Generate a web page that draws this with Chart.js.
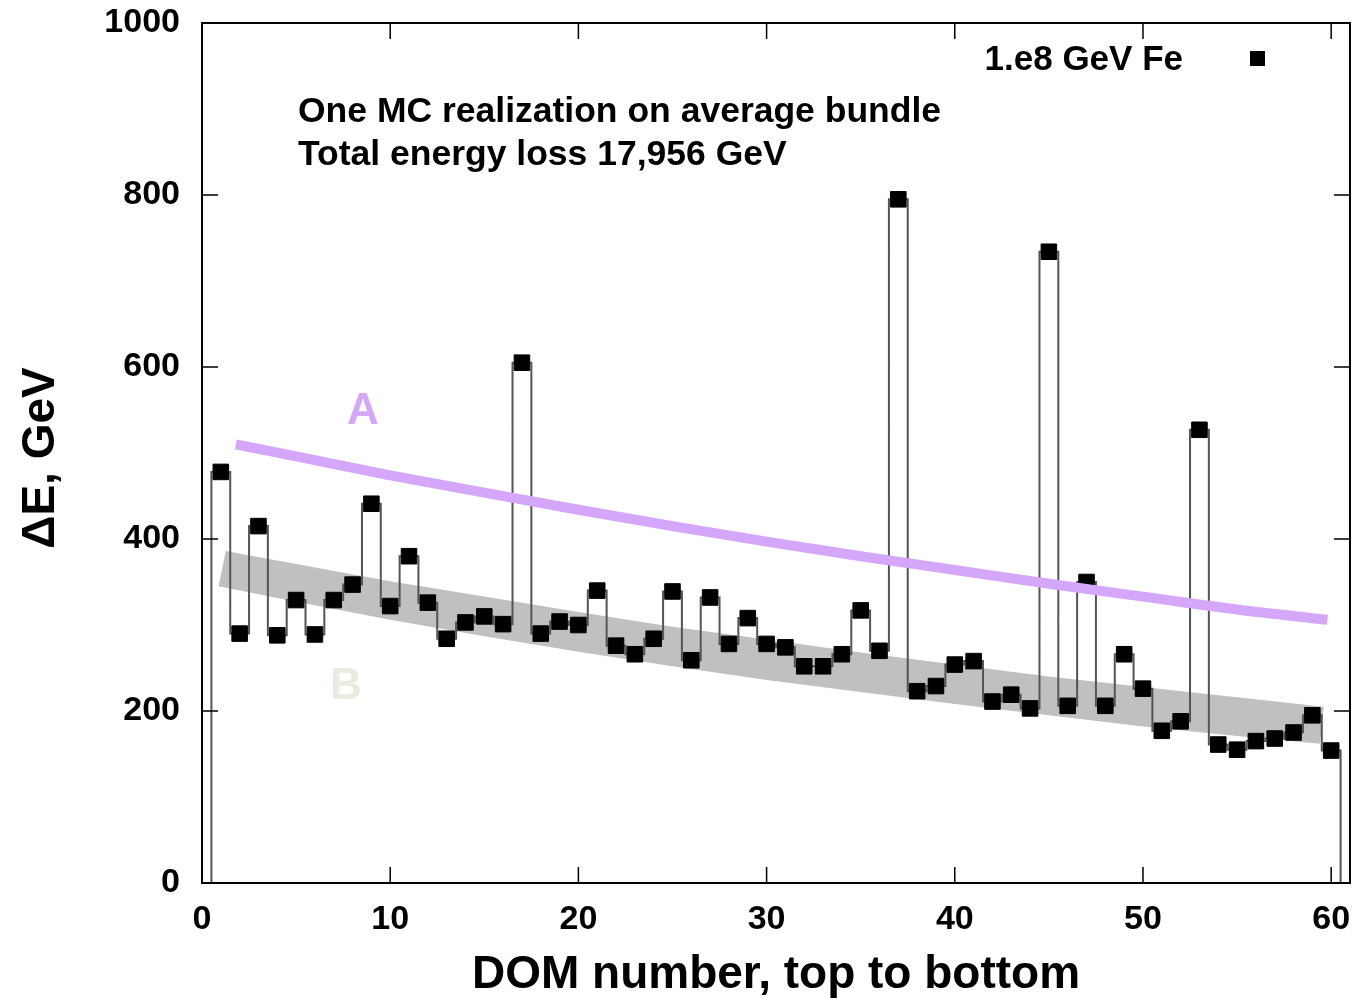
<!DOCTYPE html>
<html>
<head>
<meta charset="utf-8">
<script src="https://cdn.jsdelivr.net/npm/chart.js@4.4.1/dist/chart.umd.min.js"></script>
<style>
html,body{margin:0;padding:0;background:#fff;}
#wrap{width:1368px;height:998px;}
</style>
</head>
<body>
<div id="wrap"><canvas id="c" width="1368" height="998"></canvas></div>
<script>
// ---- data ----
const domNumbers = [1,2,3,4,5,6,7,8,9,10,11,12,13,14,15,16,17,18,19,20,21,22,23,24,25,26,27,28,29,30,
                    31,32,33,34,35,36,37,38,39,40,41,42,43,44,45,46,47,48,49,50,51,52,53,54,55,56,57,58,59,60];
const energyLoss = [478,290,415,288,329,289,329,347,441,322,380,326,284,303,310,301,605,290,304,300,
                    340,276,266,284,339,259,332,278,308,278,274,252,252,266,317,270,795,223,229,254,
                    258,211,219,203,734,206,350,206,266,226,177,188,527,161,155,165,168,175,195,154];

// curve A (purple)
const curveAX = [1.8, 5, 10, 15, 20, 25, 30, 35, 40, 45, 50, 55, 59.8];
const curveAY = [510, 496, 474, 454, 434, 415, 397, 380, 364, 348, 333, 318, 306];

// band B (grey)
const bandUpperX = [1.26, 5, 10, 15, 20, 25, 30, 35, 40, 45, 50, 55, 59.6];
const bandUpperY = [386, 371, 351, 333, 315, 298, 283, 268, 254, 240, 228, 216, 205];
const bandLowerX = [0.88, 5, 10, 15, 20, 25, 30, 35, 40, 45, 50, 55, 59.4];
const bandLowerY = [345, 327, 306, 287, 269, 252, 236, 222, 208, 195, 182, 171, 162];

const xTickValues = [0, 10, 20, 30, 40, 50, 60];
const yTickValues = [0, 200, 400, 600, 800, 1000];

const seriesLabel = '1.e8 GeV Fe';
const noteLines = ['One MC realization on average bundle', 'Total energy loss 17,956 GeV'];
const xTitle = 'DOM number, top to bottom';
const yTitle = '\u0394E, GeV';

// ---- derived tables for the library ----
const markerPts = domNumbers.map((d, i) => ({x: d, y: energyLoss[i]}));
const stepPts = [{x: domNumbers[0] - 0.5, y: 0}]
  .concat(domNumbers.map((d, i) => ({x: d - 0.5, y: energyLoss[i]})))
  .concat([{x: domNumbers[domNumbers.length - 1] + 0.5, y: 0}]);
const curveAPts = curveAX.map((x, i) => ({x, y: curveAY[i]}));
const bandPts = bandUpperX.map((x, i) => ({x, y: bandUpperY[i]}))
  .concat(bandLowerX.map((x, i) => ({x, y: bandLowerY[i]})).reverse());
bandPts.push({x: bandUpperX[0], y: bandUpperY[0]});

const FONT = "'Liberation Sans', Arial, Helvetica, sans-serif";

const decor = {
  id: 'decor',
  afterDraw(chart) {
    const ctx = chart.ctx;
    const a = chart.chartArea;
    const xs = chart.scales.x, ys = chart.scales.y;
    ctx.save();
    // frame
    ctx.strokeStyle = '#000';
    ctx.lineWidth = 2;
    ctx.strokeRect(a.left, a.top, a.right - a.left, a.bottom - a.top);
    // inward ticks
    ctx.lineWidth = 1.5;
    const L = 16;
    xTickValues.forEach(v => {
      if (v === 0) return;
      const px = xs.getPixelForValue(v);
      ctx.beginPath();
      ctx.moveTo(px, a.bottom); ctx.lineTo(px, a.bottom - L);
      ctx.moveTo(px, a.top); ctx.lineTo(px, a.top + L);
      ctx.stroke();
    });
    yTickValues.forEach(v => {
      if (v === 0 || v === 1000) return;
      const py = ys.getPixelForValue(v);
      ctx.beginPath();
      ctx.moveTo(a.left, py); ctx.lineTo(a.left + L, py);
      ctx.moveTo(a.right, py); ctx.lineTo(a.right - L, py);
      ctx.stroke();
    });
    // texts
    ctx.fillStyle = '#000';
    ctx.textBaseline = 'alphabetic';
    ctx.font = 'bold 35.5px ' + FONT;
    ctx.textAlign = 'left';
    ctx.fillText(noteLines[0], 298, 122);
    ctx.fillText(noteLines[1], 298, 165);
    ctx.textAlign = 'right';
    ctx.font = 'bold 35px ' + FONT;
    ctx.fillText(seriesLabel, 1183, 70);
    // legend marker
    ctx.fillRect(1250, 51, 15, 15);
    // A and B labels
    ctx.textAlign = 'center';
    ctx.font = 'bold 44px ' + FONT;
    ctx.fillStyle = '#d5a7fa';
    ctx.fillText('A', 363, 424);
    ctx.fillStyle = '#ece9df';
    ctx.fillText('B', 346, 699);
    // axis titles
    ctx.fillStyle = '#000';
    ctx.font = 'bold 46px ' + FONT;
    ctx.textAlign = 'center';
    ctx.fillText(xTitle, 776, 988);
    ctx.save();
    ctx.translate(54, 458);
    ctx.rotate(-Math.PI / 2);
    ctx.fillText(yTitle, 0, 0);
    ctx.restore();
    ctx.restore();
  }
};

new Chart(document.getElementById('c'), {
  type: 'scatter',
  data: {
    datasets: [
      {
        label: 'A',
        data: curveAPts,
        showLine: true,
        borderColor: '#d5a7fa',
        borderWidth: 10,
        pointRadius: 0,
        tension: 0.4,
        cubicInterpolationMode: 'monotone',
        fill: false
      },
      {
        label: seriesLabel,
        data: markerPts,
        showLine: false,
        pointStyle: 'rect',
        pointRadius: 11,
        pointBackgroundColor: '#000',
        pointBorderColor: '#000',
        pointBorderWidth: 1
      },
      {
        label: 'steps',
        data: stepPts,
        showLine: true,
        stepped: 'before',
        borderColor: '#555',
        borderWidth: 2,
        pointRadius: 0,
        fill: false
      },
      {
        label: 'B',
        data: bandPts,
        showLine: true,
        borderWidth: 0,
        borderColor: 'rgba(0,0,0,0)',
        backgroundColor: '#c0c0c0',
        pointRadius: 0,
        tension: 0,
        fill: 'shape'
      }
    ]
  },
  options: {
    responsive: false,
    animation: false,
    events: [],
    layout: {padding: {left: 0, right: 18, top: 23, bottom: 0}},
    plugins: {legend: {display: false}, tooltip: {enabled: false}, title: {display: false}},
    scales: {
      x: {
        type: 'linear',
        min: 0, max: 61,
        afterBuildTicks: s => { s.ticks = xTickValues.map(v => ({value: v})); },
        afterFit: s => { s.height = 115; s.paddingLeft = 0; s.paddingRight = 0; },
        grid: {display: false, drawTicks: false},
        border: {display: true, color: '#000', width: 2},
        ticks: {color: '#000', padding: 16, maxRotation: 0, autoSkip: false,
                callback: v => String(v),
                font: {family: FONT, size: 34, weight: 'bold'}}
      },
      y: {
        type: 'linear',
        min: 0, max: 1000,
        afterBuildTicks: s => { s.ticks = yTickValues.map(v => ({value: v})); },
        afterFit: s => { s.width = 202; s.paddingTop = 0; s.paddingBottom = 0; },
        grid: {display: false, drawTicks: false},
        border: {display: true, color: '#000', width: 2},
        ticks: {color: '#000', padding: 22,
                callback: v => String(v),
                font: {family: FONT, size: 34, weight: 'bold'}}
      }
    }
  },
  plugins: [decor]
});
</script>
</body>
</html>
